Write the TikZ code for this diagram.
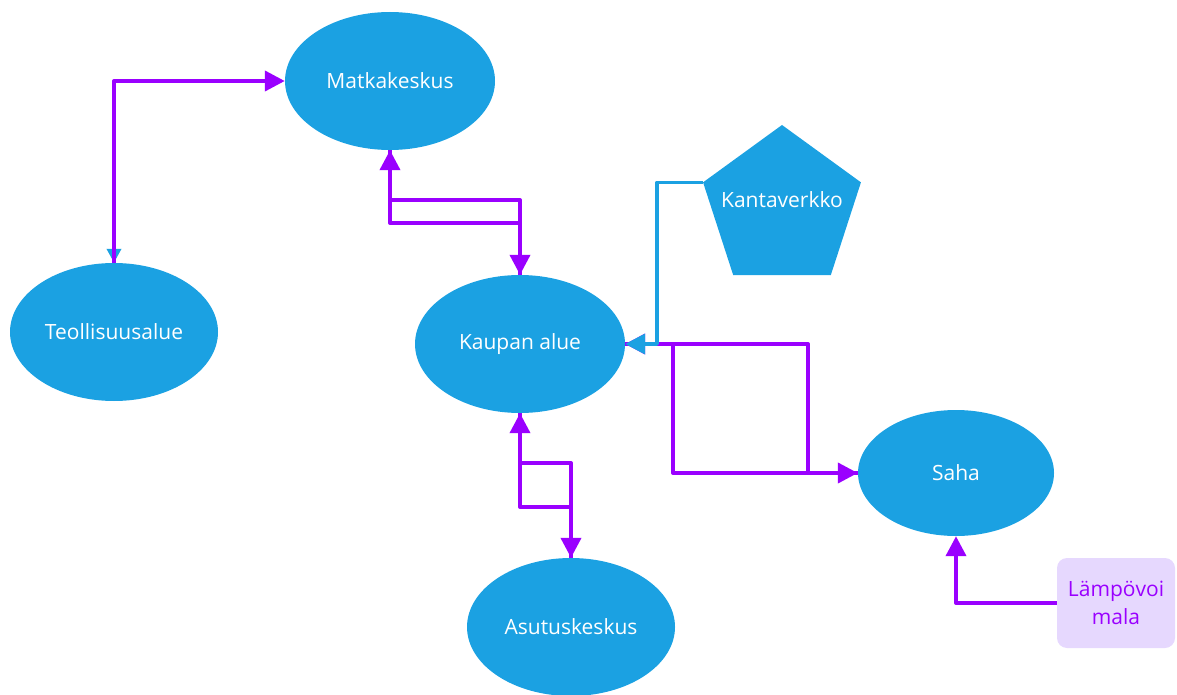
\documentclass[tikz,border=0pt]{standalone}
\usepackage{fontspec}
\setmainfont{Open Sans}
\usetikzlibrary{shapes.geometric,arrows.meta}
\definecolor{kblue}{HTML}{1BA1E2}
\definecolor{kpurple}{HTML}{9A00FF}
\definecolor{klilac}{HTML}{E6D8FE}
\tikzset{
  lbl/.style={font=\fontsize{21}{28}\selectfont},
  elli/.style={ellipse, fill=kblue, draw=none, inner sep=0pt, text=white,
    minimum width=#1, minimum height=138pt, lbl},
  elli/.default=208pt,
  pline/.style={draw=kpurple, line width=4pt, line join=round,
    -{Triangle[length=20pt,width=20pt]}},
  bline/.style={draw=kblue, line width=3.5pt, line join=round,
    -{Triangle[length=20pt,width=20pt]}},
}
\begin{document}
\begin{tikzpicture}[x=1pt,y=-1pt]
\useasboundingbox (0,0) rectangle (1177,695);
% nodes
\node[elli=210pt] (mat) at (390,81) {\makebox[0pt]{Matkakeskus}};
\node[elli=208pt] (teo) at (114,332) {\makebox[0pt]{Teollisuusalue}};
\node[elli=210pt] (kau) at (520,344) {\makebox[0pt]{Kaupan alue}};
\node[elli=196pt, minimum height=126pt] (sah) at (956,473) {Saha};
\node[elli=208pt] (asu) at (571,627) {\makebox[0pt]{Asutuskeskus}};
\node[regular polygon, regular polygon sides=5, fill=kblue, inner sep=0pt,
  minimum size=166pt, text=white, lbl]
  (kan) at (782,208) {\raisebox{1pt}[0pt][0pt]{\makebox[0pt]{Kantaverkko}}};
\node[rectangle, rounded corners=10pt, fill=klilac, text=kpurple,
  minimum width=118pt, minimum height=90pt, inner sep=0pt, align=center, lbl]
  (lam) at (1116,603) {Lämpövoi\\mala};
% connectors
\draw[pline, {Triangle[length=14pt,width=14pt,color=kblue]}-{Triangle[length=20pt,width=20pt]}]
  (teo.north) |- (mat.west);
\draw[draw=kpurple, line width=4pt] (teo.north) -- ++(0,-20);
% Matkakeskus <-> Kaupan alue
\draw[pline] (mat.south) -- (mat.south |- 0,223) -| (kau.north);
\draw[pline] (kau.north) -- (kau.north |- 0,200) -| (mat.south);
% Kaupan alue <-> Asutuskeskus
\draw[pline] (kau.south) -- (kau.south |- 0,507) -| (asu.north);
\draw[pline] (asu.north) -- (asu.north |- 0,463) -| (kau.south);
% Kaupan alue <-> Saha
\draw[pline] (kau.east) -- (808,344) |- (sah.west);
\draw[pline] (sah.west) -- (673,473) |- (kau.east);
% Kantaverkko -> Kaupan alue
\draw[bline] (kan.corner 2) -- (657,0 |- kan.corner 2) |- (kau.east);
% Lampovoimala -> Saha
\draw[pline] (lam.west) -| (sah.south);
\end{tikzpicture}
\end{document}
